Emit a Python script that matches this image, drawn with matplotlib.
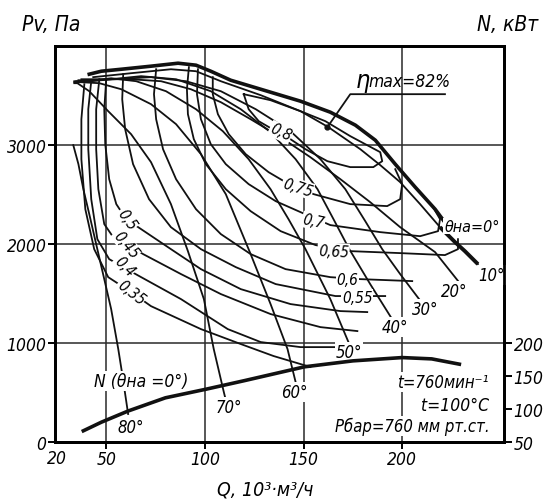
import matplotlib
matplotlib.use("Agg")
import matplotlib.pyplot as plt

plt.rcParams["font.family"] = ["DejaVu Sans"]
plt.rcParams["font.stretch"] = "condensed"
plt.rcParams["font.style"] = "italic"

# ---------------------------------------------------------------- data
# pressure curves for guide-vane angles (Q in 10^3 m3/h, Pv in Pa)
q_th0 = [41.4, 47.5, 57.6, 72.7, 86.4, 95.5, 103.0, 113.1, 128.3, 148.5, 163.6, 176.3, 186.4, 196.5, 206.6, 216.7, 222.7]
p_th0 = [3717, 3747, 3767, 3798, 3828, 3808, 3747, 3656, 3565, 3444, 3333, 3202, 3050, 2808, 2576, 2353, 2192]

q_th10 = [43.4, 62.6, 82.8, 95.5, 108.1, 128.3, 148.5, 162.6, 178.8, 188.9, 199.0, 209.1, 219.2, 226.8, 231.8, 238.4]
p_th10 = [3687, 3727, 3767, 3747, 3646, 3505, 3343, 3182, 2959, 2798, 2626, 2404, 2171, 2020, 1929, 1798]

q_th20 = [37.4, 47.5, 62.6, 77.8, 92.9, 108.1, 123.2, 138.4, 153.5, 168.7, 183.8, 199.0, 216.7, 228.8]
p_th20 = [3666, 3666, 3666, 3646, 3565, 3434, 3262, 3080, 2878, 2656, 2424, 2171, 1919, 1616]

q_th30 = [35.9, 44.9, 72.7, 90.4, 108.1, 125.8, 143.4, 158.6, 171.2, 181.3, 189.9, 199.0, 208.6]
p_th30 = [3656, 3656, 3687, 3646, 3545, 3363, 3141, 2858, 2555, 2232, 1949, 1697, 1444]

q_th40 = [34.8, 42.4, 67.7, 85.4, 103.0, 118.2, 133.3, 146.0, 157.1, 165.2, 173.2, 183.8, 194.9]
p_th40 = [3646, 3646, 3697, 3666, 3545, 3363, 3131, 2858, 2555, 2252, 1949, 1596, 1242]

q_th50 = [33.8, 39.9, 52.5, 65.2, 80.3, 95.5, 109.1, 122.2, 133.3, 142.4, 151.0, 163.6, 173.2]
p_th50 = [3646, 3646, 3676, 3646, 3545, 3363, 3141, 2858, 2555, 2252, 1949, 1444, 990]

q_th60 = [33.8, 37.4, 46.5, 57.6, 72.7, 85.4, 98.0, 110.6, 123.2, 133.3, 141.9, 146.0]
p_th60 = [3636, 3636, 3626, 3565, 3414, 3212, 2909, 2505, 1899, 1394, 939, 606]

q_th70 = [33.8, 35.4, 41.4, 51.0, 62.6, 72.7, 82.8, 91.4, 99.5, 104.5, 109.6, 111.1]
p_th70 = [3626, 3626, 3545, 3343, 3111, 2828, 2404, 1929, 1444, 939, 505, 384]

q_th80 = [33.3, 35.9, 38.4, 41.4, 44.9, 49.0, 52.5, 56.1, 58.1, 61.1]
p_th80 = [3000, 2808, 2555, 2303, 2000, 1646, 1343, 939, 687, 283]

# efficiency contours
q_e80 = [119.7, 122.2, 127.3, 134.3, 143.4, 151.0, 162.1, 173.7, 185.4, 189.9, 188.9, 181.3, 173.7, 161.1, 148.5, 133.3, 119.7]
p_e80 = [3515, 3363, 3242, 3161, 3060, 2959, 2838, 2778, 2778, 2838, 2929, 3010, 3091, 3242, 3343, 3454, 3515]

q_e75 = [104.0, 104.0, 106.6, 112.1, 120.7, 132.3, 140.9, 155.1, 173.7, 192.4, 199.0, 200.0, 196.5]
p_e75 = [3687, 3515, 3313, 3111, 2909, 2727, 2626, 2505, 2404, 2384, 2454, 2606, 2757]

q_e70 = [96.5, 96.0, 98.0, 103.0, 110.6, 122.2, 135.9, 148.5, 163.6, 188.9, 209.1, 218.2, 219.2, 215.7]
p_e70 = [3767, 3515, 3262, 3010, 2808, 2606, 2434, 2323, 2192, 2121, 2080, 2131, 2252, 2373]

q_e65 = [91.9, 90.9, 91.4, 94.4, 100.5, 110.6, 123.2, 138.4, 156.1, 173.7, 199.0, 221.7, 228.3, 228.3]
p_e65 = [3788, 3565, 3313, 3060, 2808, 2555, 2333, 2131, 1990, 1929, 1909, 1889, 1949, 2050]

q_e60 = [75.3, 74.2, 75.3, 78.8, 85.4, 95.5, 108.1, 123.2, 140.9, 163.6, 178.8, 205.1]
p_e60 = [3767, 3515, 3262, 2959, 2656, 2353, 2101, 1899, 1747, 1666, 1646, 1626]

q_e55 = [58.6, 58.1, 59.6, 63.6, 71.7, 82.8, 98.0, 115.7, 135.9, 166.2, 184.8, 191.4]
p_e55 = [3717, 3464, 3161, 2808, 2454, 2171, 1949, 1767, 1596, 1475, 1475, 1475]

q_e50 = [50.0, 49.0, 49.5, 51.5, 55.1, 60.1, 67.7, 82.8, 98.0, 118.2, 143.4, 168.7, 182.3]
p_e50 = [3666, 3363, 3010, 2656, 2404, 2252, 2151, 1949, 1747, 1545, 1394, 1323, 1313]

q_e45 = [46.5, 44.9, 44.9, 46.0, 49.0, 53.5, 61.1, 68.7, 87.9, 108.1, 133.3, 158.6, 177.3]
p_e45 = [3666, 3363, 2959, 2555, 2202, 2071, 1990, 1899, 1697, 1495, 1293, 1161, 1121]

q_e40 = [42.4, 40.9, 40.9, 42.4, 45.5, 51.5, 58.6, 67.7, 87.9, 111.6, 128.3, 148.5, 170.2]
p_e40 = [3646, 3363, 2959, 2454, 2050, 1848, 1767, 1666, 1444, 1141, 1010, 959, 959]

q_e35 = [38.9, 37.4, 37.4, 39.4, 43.9, 51.0, 62.6, 72.7, 98.0, 118.2, 134.8, 153.5]
p_e35 = [3616, 3262, 2858, 2353, 1949, 1666, 1515, 1373, 1141, 990, 869, 758]

# eta max point and leader line
q_etamax = [162.1, 173.7, 221.7]
p_etamax = [3182, 3515, 3515]

# power curve N (kW), theta = 0
q_power = [38.4, 47.5, 61.1, 80.0, 100.5, 120.0, 150.5, 175.0, 200.0, 215.0, 229.0]
n_power = [67, 80, 97, 117, 130, 143, 164, 173, 178, 176, 168]

# labels: text, Q, P, rotation
eta_labels = [("0,8", 138.4, 3131, -25), ("0,75", 147.0, 2576, -18), ("0,7", 155.1, 2232, -12),
              ("0,65", 165.2, 1929, -3), ("0,6", 172.2, 1646, 0), ("0,55", 177.3, 1464, 0),
              ("0,5", 60.6, 2252, -55), ("0,45", 60.1, 2000, -50), ("0,4", 59.1, 1777, -45),
              ("0,35", 62.6, 1515, -38)]
angle_labels = [("10°", 245.5, 1687), ("20°", 226.3, 1525), ("30°", 211.6, 1343), ("40°", 196.5, 1161),
                ("50°", 173.2, 909), ("60°", 145.5, 505), ("70°", 112.1, 354), ("80°", 62.6, 152)]

x_ticks = [50, 100, 150, 200]
y_ticks = [0, 1000, 2000, 3000]
n_ticks = [50, 100, 150, 200]

# ---------------------------------------------------------------- plot
fig = plt.figure(figsize=(5.44, 5.02), dpi=100)
ax = fig.add_axes([0.101, 0.1175, 0.825, 0.7885])
ax.set_xlim(24, 251.5)
ax.set_ylim(0, 4000)
ax.set_xticks(x_ticks)
ax.set_yticks(y_ticks)
ax.grid(True, color="#2a2a2a", lw=1.1, zorder=0)
for s in ax.spines.values():
    s.set_linewidth(2.0)
ax.tick_params(direction="out", length=5, width=1.4, labelsize=12.5, pad=1)

ink = "#111111"
thin = 1.3
theta_curves = [(q_th20, p_th20), (q_th30, p_th30), (q_th40, p_th40), (q_th50, p_th50),
                (q_th60, p_th60), (q_th70, p_th70), (q_th80, p_th80)]
for q, p in theta_curves:
    ax.plot(q, p, color=ink, lw=thin, zorder=3, solid_joinstyle="round")
ax.plot(q_th10, p_th10, color=ink, lw=thin, zorder=3, solid_joinstyle="round")
ax.plot(q_th10[-4:], p_th10[-4:], color=ink, lw=2.8, zorder=3, solid_capstyle="butt")
ax.plot(q_th0, p_th0, color=ink, lw=2.6, zorder=4, solid_joinstyle="round")

eta_curves = [(q_e80, p_e80), (q_e75, p_e75), (q_e70, p_e70), (q_e65, p_e65), (q_e60, p_e60),
              (q_e55, p_e55), (q_e50, p_e50), (q_e45, p_e45), (q_e40, p_e40), (q_e35, p_e35)]
for q, p in eta_curves:
    ax.plot(q, p, color=ink, lw=thin, zorder=3, solid_joinstyle="round")

box = dict(boxstyle="square,pad=0.05", fc="white", ec="none")
for txt, q, p, rot in eta_labels:
    ax.text(q, p, txt, fontsize=11, rotation=rot, ha="center", va="center", bbox=box, zorder=5)
for txt, q, p in angle_labels:
    ax.text(q, p, txt, fontsize=12, ha="center", va="center", bbox=box, zorder=5)

ax.text(235.4, 2182, "θна=0°", fontsize=11.5, ha="center", va="center", bbox=box, zorder=5)
ax.text(67.7, 616, "N (θна =0°)", fontsize=12.5, ha="center", va="center", bbox=box, zorder=5)
ax.text(243.9, 606, "t=760мин⁻¹", fontsize=12, ha="right", va="center", bbox=box, zorder=5)
ax.text(243.9, 374, "t=100°C", fontsize=12.5, ha="right", va="center", bbox=box, zorder=5)
ax.text(244.4, 162, "Pбар=760 мм рт.ст.", fontsize=12, ha="right", va="center", bbox=box, zorder=5)

# eta max marker with leader line
ax.plot(q_etamax, p_etamax, color=ink, lw=thin, zorder=5)
ax.plot(q_etamax[:1], p_etamax[:1], "o", color=ink, ms=3.5, zorder=6)
ax.text(176.5, 3540, "η", fontsize=18, ha="left", va="bottom", zorder=5)
ax.text(183.0, 3555, "max=82%", fontsize=12.5, ha="left", va="bottom", zorder=5)

# power axis
ax2 = ax.twinx()
ax2.set_ylim(50, 650)
ax2.set_yticks(n_ticks)
ax2.tick_params(direction="out", length=6, width=1.4, labelsize=12.5, pad=1)
for s in ax2.spines.values():
    s.set_linewidth(2.0)
ax2.plot(q_power, n_power, color=ink, lw=2.6, zorder=4)

ax.text(0.005, -0.018, "20", fontsize=12.5, ha="center", va="top", transform=ax.transAxes)

fig.text(0.04, 0.95, "Pv, Па", fontsize=15, ha="left", va="center")
fig.text(0.99, 0.95, "N, кВт", fontsize=15, ha="right", va="center")
fig.text(0.487, 0.024, "Q, 10³·м³/ч", fontsize=14, ha="center", va="center")

fig.savefig("out.png", dpi=100, facecolor="white")
